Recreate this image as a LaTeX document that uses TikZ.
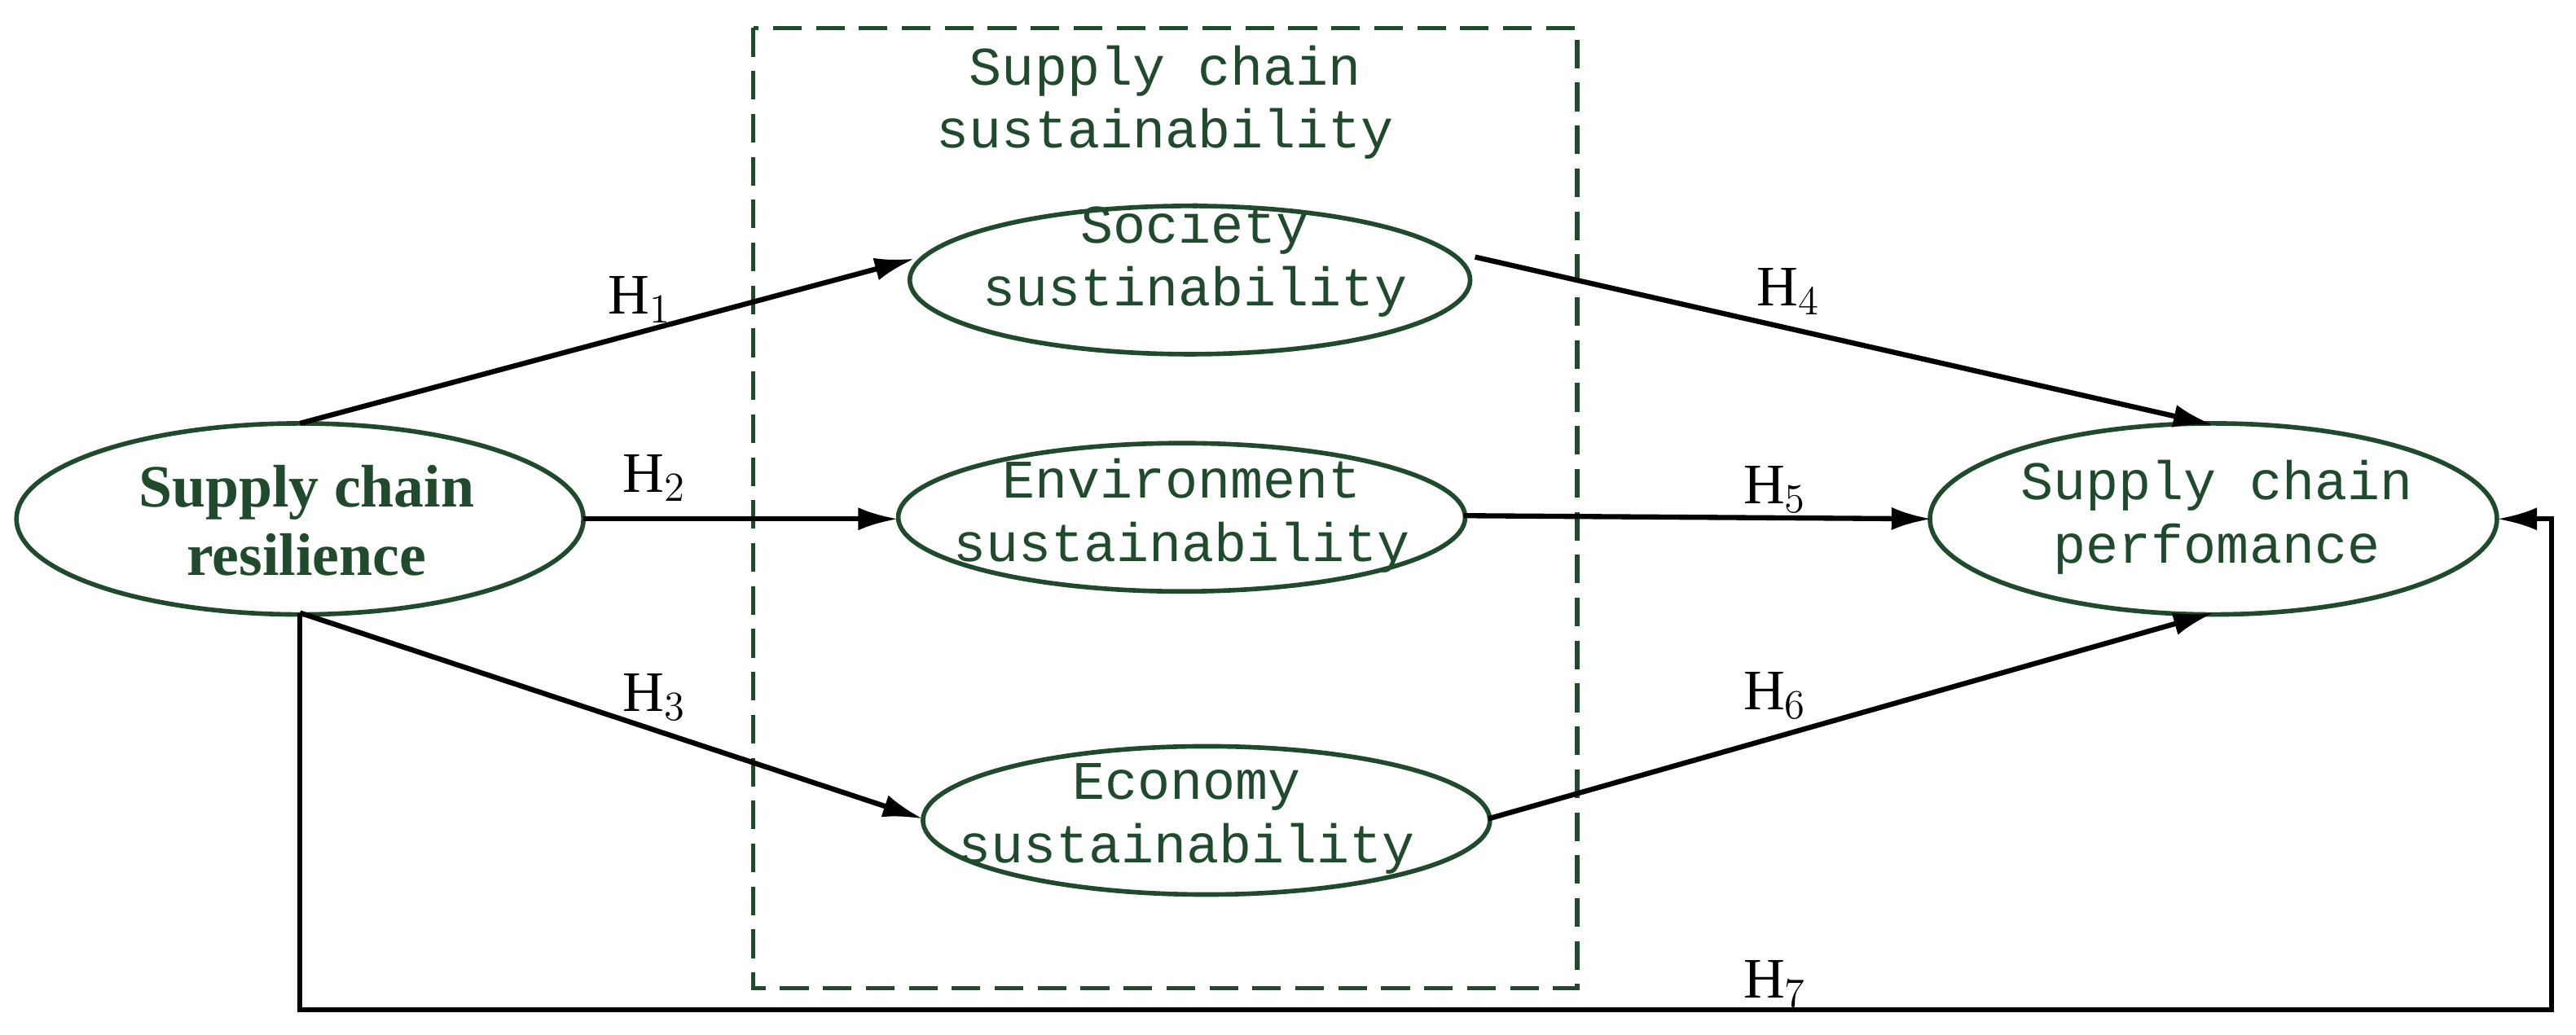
\documentclass[tikz,border=0pt]{standalone}
\usepackage{fontspec}
\setmainfont{Liberation Serif}
\newfontfamily\monof{Liberation Mono}
\usetikzlibrary{arrows.meta}
\definecolor{dg}{HTML}{1F4A2C}
\begin{document}
\begin{tikzpicture}[x=0.02023cm,y=-0.02023cm,
  mt/.style={text=dg,font=\monof\fontsize{19}{22}\selectfont,align=center},
  arr/.style={-{Latex[length=14pt,width=8pt]},line width=1.8pt},
  hl/.style={font=\fontsize{20}{24}\selectfont}]
\useasboundingbox (0,0) rectangle (1563,628);
\draw[dg,line width=1.5pt,dash pattern=on 10pt off 5pt] (457,17) rectangle (957,600);
\node[mt] (title) at (707,62) {Supply chain\\sustainability};
\draw[dg,line width=1.6pt] (182,315) ellipse [x radius=172,y radius=58];
\draw[dg,line width=1.6pt] (722,170) ellipse [x radius=170,y radius=45];
\draw[dg,line width=1.6pt] (717,314) ellipse [x radius=172,y radius=45];
\draw[dg,line width=1.6pt] (732,498) ellipse [x radius=172,y radius=45];
\draw[dg,line width=1.6pt] (1343,315) ellipse [x radius=172,y radius=58];
\node[text=dg,font=\bfseries\fontsize{21}{24}\selectfont,align=center] (res) at (186,316) {Supply chain\\resilience};
\node[mt] (soc) at (725,158) {Society\\sustinability};
\node[mt] (env) at (717,313) {Environment\\sustainability};
\node[mt] (eco) at (720,497) {Economy\\sustainability};
\node[mt] (perf) at (1345,314) {Supply chain\\perfomance};
\coordinate (a1) at (182,257); \coordinate (b1) at (555,157);
\coordinate (a2) at (354,315); \coordinate (b2) at (545,315);
\coordinate (a3) at (182,372); \coordinate (b3) at (560,497);
\coordinate (a4) at (895,156); \coordinate (b4) at (1343,258);
\coordinate (a5) at (888,313); \coordinate (b5) at (1172,315);
\coordinate (a6) at (903,497); \coordinate (b6) at (1343,372);
\coordinate (c1) at (182,613); \coordinate (c2) at (1548,613); \coordinate (c3) at (1548,315); \coordinate (b7) at (1515,315);
\draw[arr] (a1) -- (b1);
\draw[arr] (a2) -- (b2);
\draw[arr] (a3) -- (b3);
\draw[arr] (a4) -- (b4);
\draw[arr] (a5) -- (b5);
\draw[arr] (a6) -- (b6);
\draw[arr] (a3) -- (c1) -- (c2) -- (c3) -- (b7);
\node[hl] (h1) at (388,182) {H$_1$};
\node[hl] (h2) at (397,290) {H$_2$};
\node[hl] (h3) at (397,423) {H$_3$};
\node[hl] (h4) at (1085,177) {H$_4$};
\node[hl] (h5) at (1077,297) {H$_5$};
\node[hl] (h6) at (1077,422) {H$_6$};
\node[hl] (h7) at (1077,597) {H$_7$};
\end{tikzpicture}
\end{document}
